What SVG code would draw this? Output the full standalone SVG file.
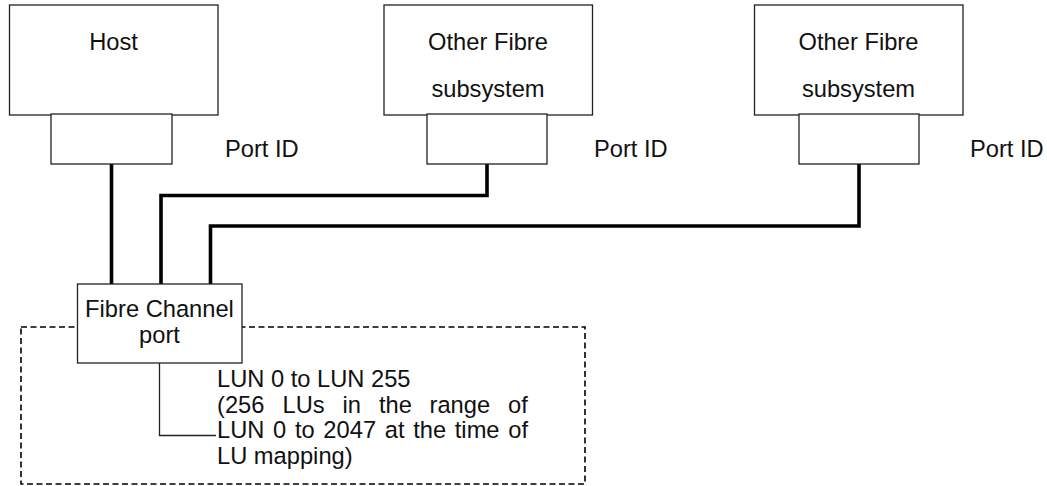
<svg xmlns="http://www.w3.org/2000/svg" width="1047" height="486" viewBox="0 0 1047 486">
<style>
.box{fill:#fff;stroke:#222;stroke-width:1.3}
.t{font-family:"Liberation Sans",Arial,sans-serif;font-size:23.7px;fill:#111}
.c{text-anchor:middle}
.wire{fill:none;stroke:#000;stroke-width:3.6;stroke-linejoin:miter}
.thin{fill:none;stroke:#222;stroke-width:1.3}
.dash{fill:none;stroke:#000;stroke-width:1.6;stroke-dasharray:6 3.5}
</style>
<rect width="1047" height="486" fill="#fff"/>
<g id="lun-area">
<rect class="dash" x="21" y="327" width="564" height="157"/>
</g>
<g id="connectors">
<path class="wire" d="M111.5,164 V284"/>
<path class="wire" d="M161,284 V195.5 H487 V164"/>
<path class="wire" d="M210.5,284 V226 H859 V164"/>
<path class="thin" d="M159.5,363 V435.5 H216"/>
</g>
<g id="host">
<rect class="box" x="9.5" y="5" width="208.5" height="110"/>
<text class="t c" x="113.5" y="50">Host</text>
</g>
<g id="host-port">
<rect class="box" x="51" y="114" width="121" height="50"/>
</g>
<text class="t" x="225" y="157">Port ID</text>
<g id="subsystem1">
<rect class="box" x="384" y="5" width="208.5" height="110"/>
<text class="t c" x="488" y="50">Other Fibre</text>
<text class="t c" x="488" y="97">subsystem</text>
</g>
<g id="subsystem1-port">
<rect class="box" x="427" y="114" width="120" height="50"/>
</g>
<text class="t" x="594" y="157">Port ID</text>
<g id="subsystem2">
<rect class="box" x="754.5" y="5" width="208.5" height="110"/>
<text class="t c" x="858.5" y="50">Other Fibre</text>
<text class="t c" x="858.5" y="97">subsystem</text>
</g>
<g id="subsystem2-port">
<rect class="box" x="799" y="114" width="120" height="50"/>
</g>
<text class="t" x="970" y="157">Port ID</text>
<g id="fc-port">
<rect class="box" x="77.5" y="284" width="164.5" height="79"/>
<text class="t c" x="159.5" y="317">Fibre Channel</text>
<text class="t c" x="159.5" y="343">port</text>
</g>
<g id="lun-label">
<text class="t" x="217" y="387">LUN 0 to LUN 255</text>
<text class="t" y="412.5"><tspan x="217">(256</tspan><tspan x="282.5">LUs</tspan><tspan x="342.5">in</tspan><tspan x="379">the</tspan><tspan x="429.5">range</tspan><tspan x="508">of</tspan></text>
<text class="t" x="217" y="438" word-spacing="2.1">LUN 0 to 2047 at the time of</text>
<text class="t" x="217" y="463.5">LU mapping)</text>
</g>
</svg>
